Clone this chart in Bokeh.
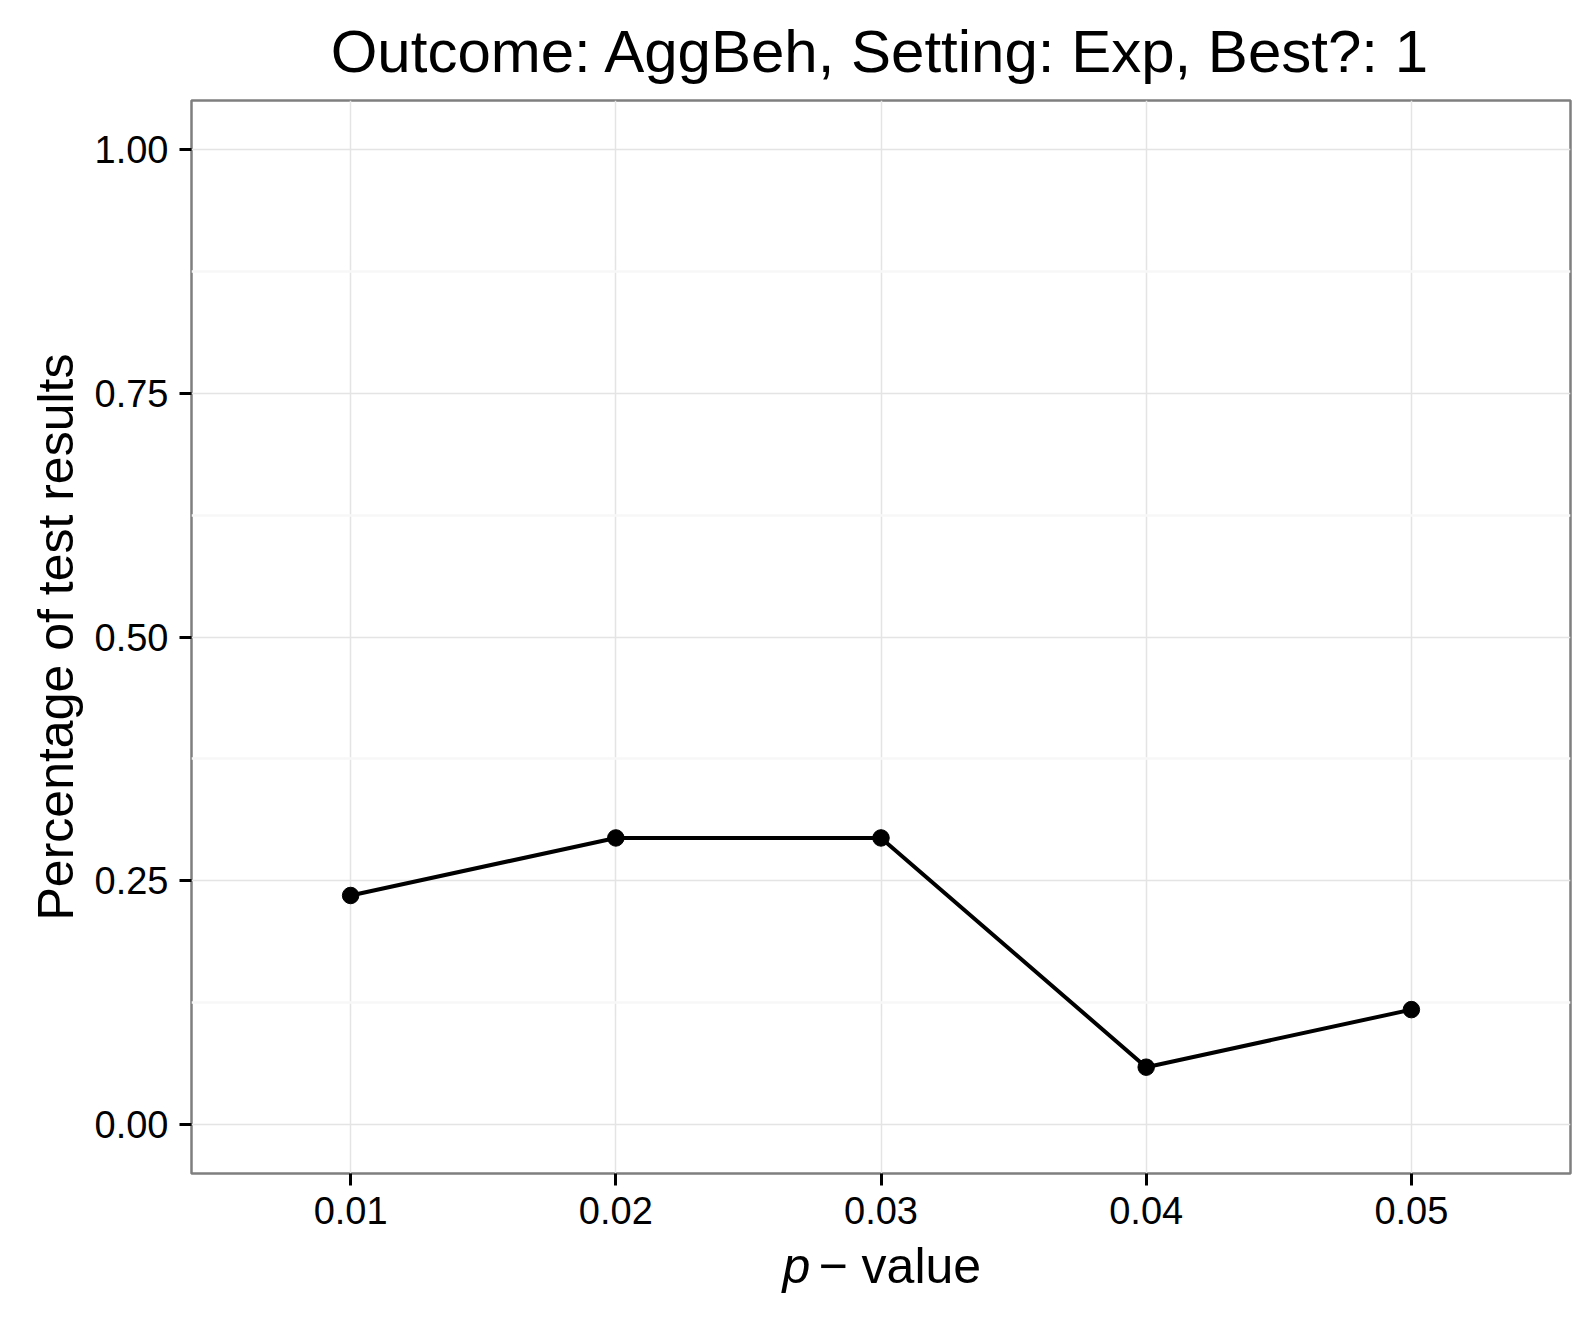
from bokeh.plotting import figure
from bokeh.layouts import column
from bokeh.models import FixedTicker, NumeralTickFormatter, Range1d
from bokeh.core.properties import value
from bokeh.embed import file_html
from bokeh.resources import INLINE

# ---- data ----
p_values = [0.01, 0.02, 0.03, 0.04, 0.05]
share = [0.235, 0.294, 0.294, 0.059, 0.118]
x_ticks = [0.01, 0.02, 0.03, 0.04, 0.05]
y_ticks = [0.0, 0.25, 0.5, 0.75, 1.0]
y_minor = [0.125, 0.375, 0.625, 0.875]
title_text = "Outcome: AggBeh, Setting: Exp, Best?: 1"
y_label = "Percentage of test results"
x_label_italic = "p"
x_label_rest = "\u2212 value"

FONT = "Liberation Sans"
X0, X1 = 0.004, 0.056
Y0, Y1 = -0.05, 1.05
FW, FH = 1379, 1073
ML, MR, MT, MB = 191, 14, 99, 70
LABEL_H = 80

x_range = Range1d(X0, X1)

p = figure(frame_width=FW, frame_height=FH,
           min_border_left=ML, min_border_right=MR,
           min_border_top=MT, min_border_bottom=MB,
           x_range=x_range, y_range=Range1d(Y0, Y1),
           output_backend="svg", toolbar_location=None,
           background_fill_color="white", border_fill_color="white")

# title
p.title.text = title_text
p.title.align = "center"
p.title.text_font = FONT
p.title.text_font_size = "60px"
p.title.text_font_style = "normal"
p.title.text_color = "black"
p.title.standoff = 31

# outline
p.outline_line_color = "#7f7f7f"
p.outline_line_width = 2.5

# grids
p.xgrid.ticker = FixedTicker(ticks=x_ticks)
p.ygrid.ticker = FixedTicker(ticks=y_ticks, minor_ticks=y_minor)
for g in (p.xgrid, p.ygrid):
    g.grid_line_color = "#e4e4e4"
    g.grid_line_width = 1.5
p.ygrid.minor_grid_line_color = "#f7f7f7"
p.ygrid.minor_grid_line_width = 2.5

# axes
p.xaxis.ticker = FixedTicker(ticks=x_ticks)
p.yaxis.ticker = FixedTicker(ticks=y_ticks)
p.xaxis.formatter = NumeralTickFormatter(format="0.00")
p.yaxis.formatter = NumeralTickFormatter(format="0.00")
for ax in (p.xaxis, p.yaxis):
    ax.axis_line_color = None
    ax.major_tick_line_color = "black"
    ax.major_tick_line_width = 3
    ax.major_tick_out = 12
    ax.major_tick_in = 0
    ax.minor_tick_line_color = None
    ax.major_label_text_font = FONT
    ax.major_label_text_font_size = "38px"
    ax.major_label_text_color = "black"
    ax.major_label_standoff = 11
p.yaxis.axis_label = y_label
p.yaxis.axis_label_text_font = FONT
p.yaxis.axis_label_text_font_size = "50px"
p.yaxis.axis_label_text_font_style = "normal"
p.yaxis.axis_label_text_color = "black"
p.yaxis.axis_label_standoff = 8

# data
p.line(p_values, share, line_color="black", line_width=4)
p.scatter(p_values, share, size=16.5, fill_color="black", line_color="black")

# ---- x-axis label strip (italic p) ----
def px_to_x(px):
    return X0 + (px - ML) / FW * (X1 - X0)

q = figure(frame_width=FW, frame_height=LABEL_H,
           min_border_left=ML, min_border_right=MR,
           min_border_top=0, min_border_bottom=0,
           x_range=x_range, y_range=Range1d(0, LABEL_H),
           x_axis_location=None, y_axis_location=None,
           output_backend="svg", toolbar_location=None,
           background_fill_alpha=0, border_fill_alpha=0)
q.title = None
q.grid.visible = False
q.outline_line_color = None
try:
    q.margin = (-20, 0, 0, 0)
except Exception:
    q.styles = {"margin-top": "-20px"}

base = 38
q.text(x=[px_to_x(782)], y=[base], text=[x_label_italic],
       text_font=value(FONT), text_font_size="50px", text_font_style="italic",
       text_color="black", text_align="left", text_baseline="alphabetic")
q.text(x=[px_to_x(818)], y=[base], text=[x_label_rest],
       text_font=value(FONT), text_font_size="50px", text_font_style="normal",
       text_color="black", text_align="left", text_baseline="alphabetic")

layout = column(p, q, spacing=0)
open("out.html", "w").write(file_html(layout, INLINE))
